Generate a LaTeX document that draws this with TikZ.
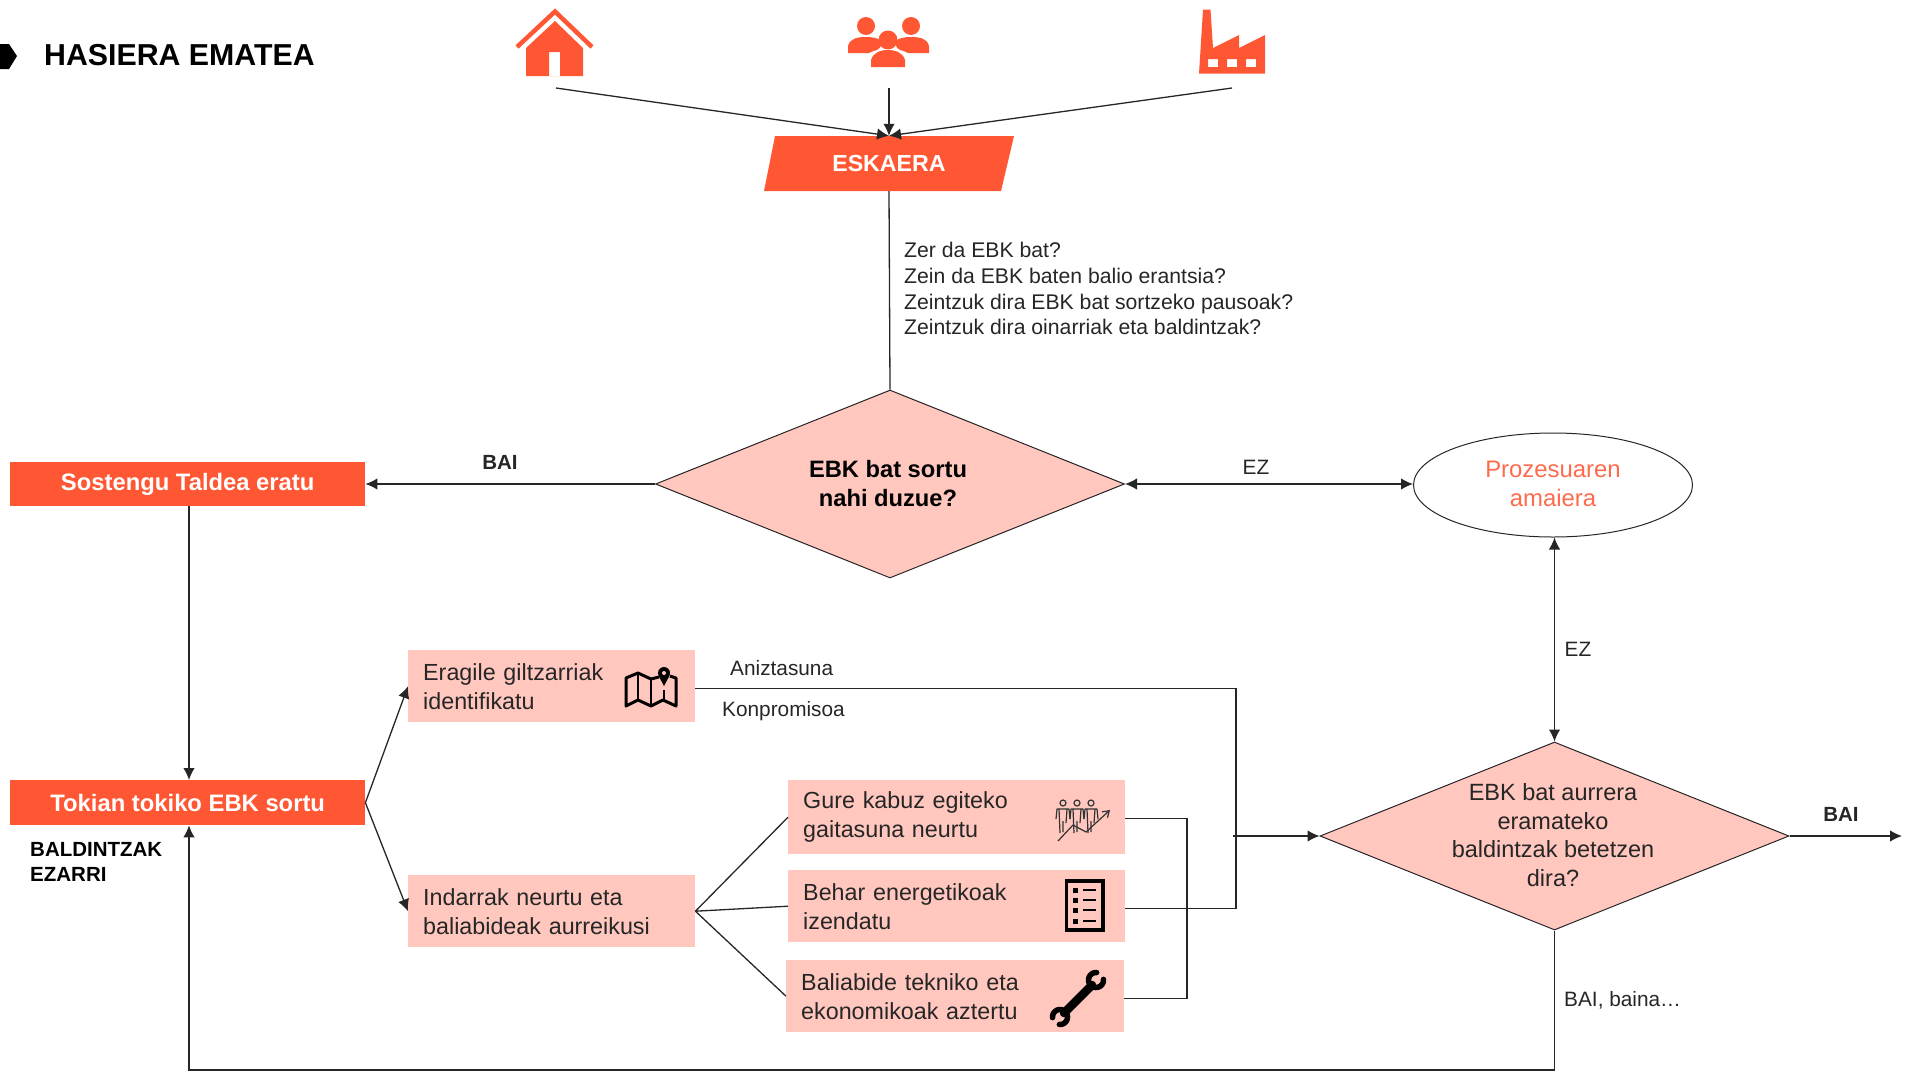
\documentclass[tikz,border=0pt]{standalone}
\usepackage{fontspec}
\setmainfont{Liberation Sans}
\usetikzlibrary{shapes.geometric,arrows.meta}
\definecolor{orng}{HTML}{FF5733}
\definecolor{orngtxt}{HTML}{FF6A4D}
\definecolor{pnk}{HTML}{FFC7BE}
\definecolor{lin}{HTML}{262626}
\newcommand{\fs}[1]{\fontsize{#1}{1.22\dimexpr #1pt\relax}\selectfont}
\newcommand{\fp}[1]{\fontsize{#1}{29pt}\selectfont}
\tikzset{
  x=1pt,y=-1pt,
  line/.style={draw=lin,line width=1.3pt},
  arr/.style={line,-{Latex[length=12pt,width=11.5pt]}},
  darr/.style={line,{Latex[length=12pt,width=11.5pt]}-{Latex[length=12pt,width=11.5pt]}},
  hdr/.style={fill=orng,text=white,font=\fs{23.8}\bfseries,inner sep=0pt,anchor=north west},
  pbox/.style={fill=pnk,text=black!85,font=\fp{23.3},align=left,anchor=north west,inner ysep=0pt,inner xsep=15pt,minimum height=72pt},
  dec/.style={diamond,fill=pnk,draw=lin,line width=1pt,inner sep=0pt,aspect=2.49,minimum width=469pt,minimum height=188pt},
  lbl/.style={text=black!85,font=\fs{20.8},inner sep=0pt},
  icon/.style={fill=orng,draw=none},
}
\begin{document}
\begin{tikzpicture}
\useasboundingbox (0,0) rectangle (1908,1071);

% title
\fill[black] (0,44) -- (9,44) -- (17,56) -- (9,69) -- (0,69) -- cycle;
\node[anchor=west,inner sep=0pt,font=\fs{30.3}\bfseries] (title) at (44,55.5) {HASIERA EMATEA};

% source icons
\coordinate (house) at (556,88);
\coordinate (people) at (889,88);
\coordinate (factory) at (1232,88);
\draw[orng,line width=4.5pt,line join=miter] (517,47) -- (555,11.5) -- (592,47);
\fill[orng,even odd rule] (526,48) -- (555,21) -- (583,48) -- (583,76) -- (526,76) -- cycle
  (549,52) rectangle (560,76);
% people
\fill[icon] (866,26) circle (9);
\fill[icon] (911,26) circle (9);
\fill[icon] (888,40) circle (9.5);
\fill[icon] (848,53) -- (848,46) .. controls (850,38) and (858,37) .. (866,37) .. controls (873,37) and (878,38) .. (881,41) .. controls (881,45) and (882,47) .. (877,50) .. controls (873,51) and (871,52) .. (869,53) -- cycle;
\fill[icon] (929,53) -- (929,46) .. controls (927,38) and (919,37) .. (911,37) .. controls (904,37) and (899,38) .. (896,41) .. controls (896,45) and (895,47) .. (900,50) .. controls (904,51) and (906,52) .. (908,53) -- cycle;
\fill[icon] (871,67) -- (871,60) .. controls (873,53) and (880,50) .. (888,50) .. controls (896,50) and (903,53) .. (905,60) -- (905,67) -- cycle;
% factory
\fill[icon,even odd rule] (1203,9.5) -- (1210.5,9.5) -- (1213,48) -- (1239,35) -- (1239,48) -- (1265,35) -- (1265,73.5) -- (1199,73.5) -- cycle
  (1208,59) rectangle (1218,67) (1227,59) rectangle (1237,67) (1246,59) rectangle (1256,67);

% eskaera
\fill[orng] (775,136) -- (1014,136) -- (1001,191) -- (764,191) -- cycle;
\node[inner sep=0pt,minimum width=226pt,minimum height=55pt,text=white,font=\fs{23.2}\bfseries] (eskaera) at (889,163.5) {ESKAERA};

% decisions
\node[dec,label={[align=center,font=\fs{23.7}\bfseries,text=black,inner sep=0pt,xshift=-2pt,yshift=0.7pt]center:EBK bat sortu\\nahi duzue?}] (d1) at (890,484) {};
\node[dec,label={[align=center,font=\fs{23.5},text=black!85,inner sep=0pt,xshift=-1.5pt,yshift=1pt]center:EBK bat aurrera\\eramateko\\baldintzak betetzen\\dira?}] (d2) at (1554.5,836) {};

% end
\node[ellipse,draw=lin,line width=1pt,minimum width=279pt,minimum height=104pt,inner sep=0pt,label={[align=center,text=orngtxt,font=\fs{23.9},inner sep=0pt,yshift=1.5pt]center:Prozesuaren\\amaiera}] (end) at (1553,485) {};

% headers
\node[hdr,minimum width=355pt,minimum height=44pt] (sos) at (10,462) {\raisebox{-1pt}{Sostengu Taldea eratu}};
\node[hdr,minimum width=355pt,minimum height=45pt] (tok) at (10,780) {Tokian tokiko EBK sortu};

% pink boxes
\node[pbox,text width=257pt] (era) at (408,650) {Eragile giltzarriak\\identifikatu};
\node[pbox,text width=257pt] (ind) at (408,875) {Indarrak neurtu eta\\baliabideak aurreikusi};
\node[pbox,text width=307pt,minimum height=74pt] (gur) at (788,780) {\raisebox{-2.5pt}{Gure kabuz egiteko}\\\raisebox{-2.5pt}{gaitasuna neurtu}};
\node[pbox,text width=307pt] (beh) at (788,870) {Behar energetikoak\\izendatu};
\node[pbox,text width=308pt] (bal) at (786,960) {Baliabide tekniko eta\\ekonomikoak aztertu};

% connectors
\draw[arr] (house) -- (eskaera.north);
\draw[arr] (people) -- (eskaera.north);
\draw[arr] (factory) -- (eskaera.north);
\draw[line] (eskaera.south) -- (d1.north);
\draw[arr] (d1.west) -- (d1.west -| sos.east);
\draw[darr] (d1.east) -- (d1.east -| end.west);
\coordinate (c1) at (189,0);
\draw[arr] (sos.south -| c1) -- (tok.north -| c1);
\draw[arr] (tok.east) -- (era.west);
\draw[arr] (tok.east) -- (ind.west);
\draw[line] (ind.east) -- (gur.west);
\draw[line] (ind.east) -- (beh.west);
\draw[line] (ind.east) -- (bal.west);
\coordinate (jr) at (1233,836);
\coordinate (vr) at (1187,900);
\coordinate (vb) at (1236,800);
\draw[line] ([yshift=-1pt]gur.east) -| (vr) |- ([yshift=-2pt]bal.east);
\draw[line] ([yshift=-2pt]era.east) -| (vb) |- ([yshift=-2pt]beh.east);
\draw[arr] (jr) -- (d2.west);
\draw[darr] (d2.north) -- (d2.north |- end.south);
\coordinate (outr) at (1902,836);
\draw[arr] (d2.east) -- (outr);
\coordinate (bot) at (1554.5,1070);
\draw[arr] (d2.south) -- (bot) -| (tok.south -| c1);

% labels
\node[lbl,anchor=west,align=left,font=\fs{21.2}] (q) at (904,288.5) {Zer da EBK bat?\\Zein da EBK baten balio erantsia?\\Zeintzuk dira EBK bat sortzeko pausoak?\\Zeintzuk dira oinarriak eta baldintzak?};
\node[lbl,font=\fs{20.5}\bfseries] (bai1) at (500,462) {BAI};
\node[lbl] (ez1) at (1256,467) {EZ};
\node[lbl] (ez2) at (1578,649) {EZ};
\node[lbl,font=\fs{20.5}\bfseries] (bai2) at (1841,814) {BAI};
\node[lbl,anchor=west] (bb) at (1564,1000) {BAI, baina…};
\node[lbl,anchor=west] (an) at (730,668) {Aniztasuna};
\node[lbl,anchor=west] (ko) at (722,711) {Konpromisoa};
\node[lbl,anchor=north west,align=left,font=\fs{20.5}\bfseries,text=black] (bald) at (30,842) {BALDINTZAK\\EZARRI};

% map icon
\begin{scope}[draw=black,line join=round]
\draw[line width=3pt] (659,677) -- (651,679) -- (638,673) -- (626,678) -- (626,706) -- (638,700) -- (651,706) -- (663,700) -- (676,706) -- (676,678) -- (670,676);
\draw[line width=2.2pt] (638,673) -- (638,700) (651,679) -- (651,706) (664,690) -- (664,700);
\fill[black] (664,673) circle (6);
\fill[black] (658.7,676) -- (664,686) -- (669.3,676) -- cycle;
\fill[pnk] (664,673) circle (2);
\end{scope}

% people-chart icon
\begin{scope}[line width=1.2pt,draw=black!80,line join=round]
\foreach \px in {1063,1077,1091}{
  \draw (\px,803) circle (3);
  \draw (\px-7,819) -- (\px-6,809) -- (\px+6,809) -- (\px+7,819);
  \draw (\px-4,809) -- (\px-3,833) (\px+4,809) -- (\px+3,823) (\px,821) -- (\px,832);
}
\draw[-{Straight Barb[length=6pt,width=8pt]}] (1058,841) -- (1073,825) -- (1086,832) -- (1110,810);
\end{scope}

% list icon
\draw[black,line width=3.5pt] (1066.5,881) rectangle (1103,930);
\foreach \ly in {890,900,910,921}{
  \fill[black] (1073,\ly-2.5) rectangle (1078,\ly+2.5);
  \draw[black,line width=1.8pt] (1083,\ly) -- (1096,\ly);
}

% wrench icon
\begin{scope}[black,line cap=round]
\draw[line width=8.5pt] (1064,1013) -- (1092,985);
\draw[line width=5.5pt] plot[domain=-5:275,samples=24,smooth] ({1096+7.5*cos(\x)},{980+7.5*sin(\x)});
\draw[line width=5.5pt] plot[domain=175:455,samples=24,smooth] ({1060+7.5*cos(\x)},{1017+7.5*sin(\x)});
\end{scope}
\end{tikzpicture}
\end{document}
